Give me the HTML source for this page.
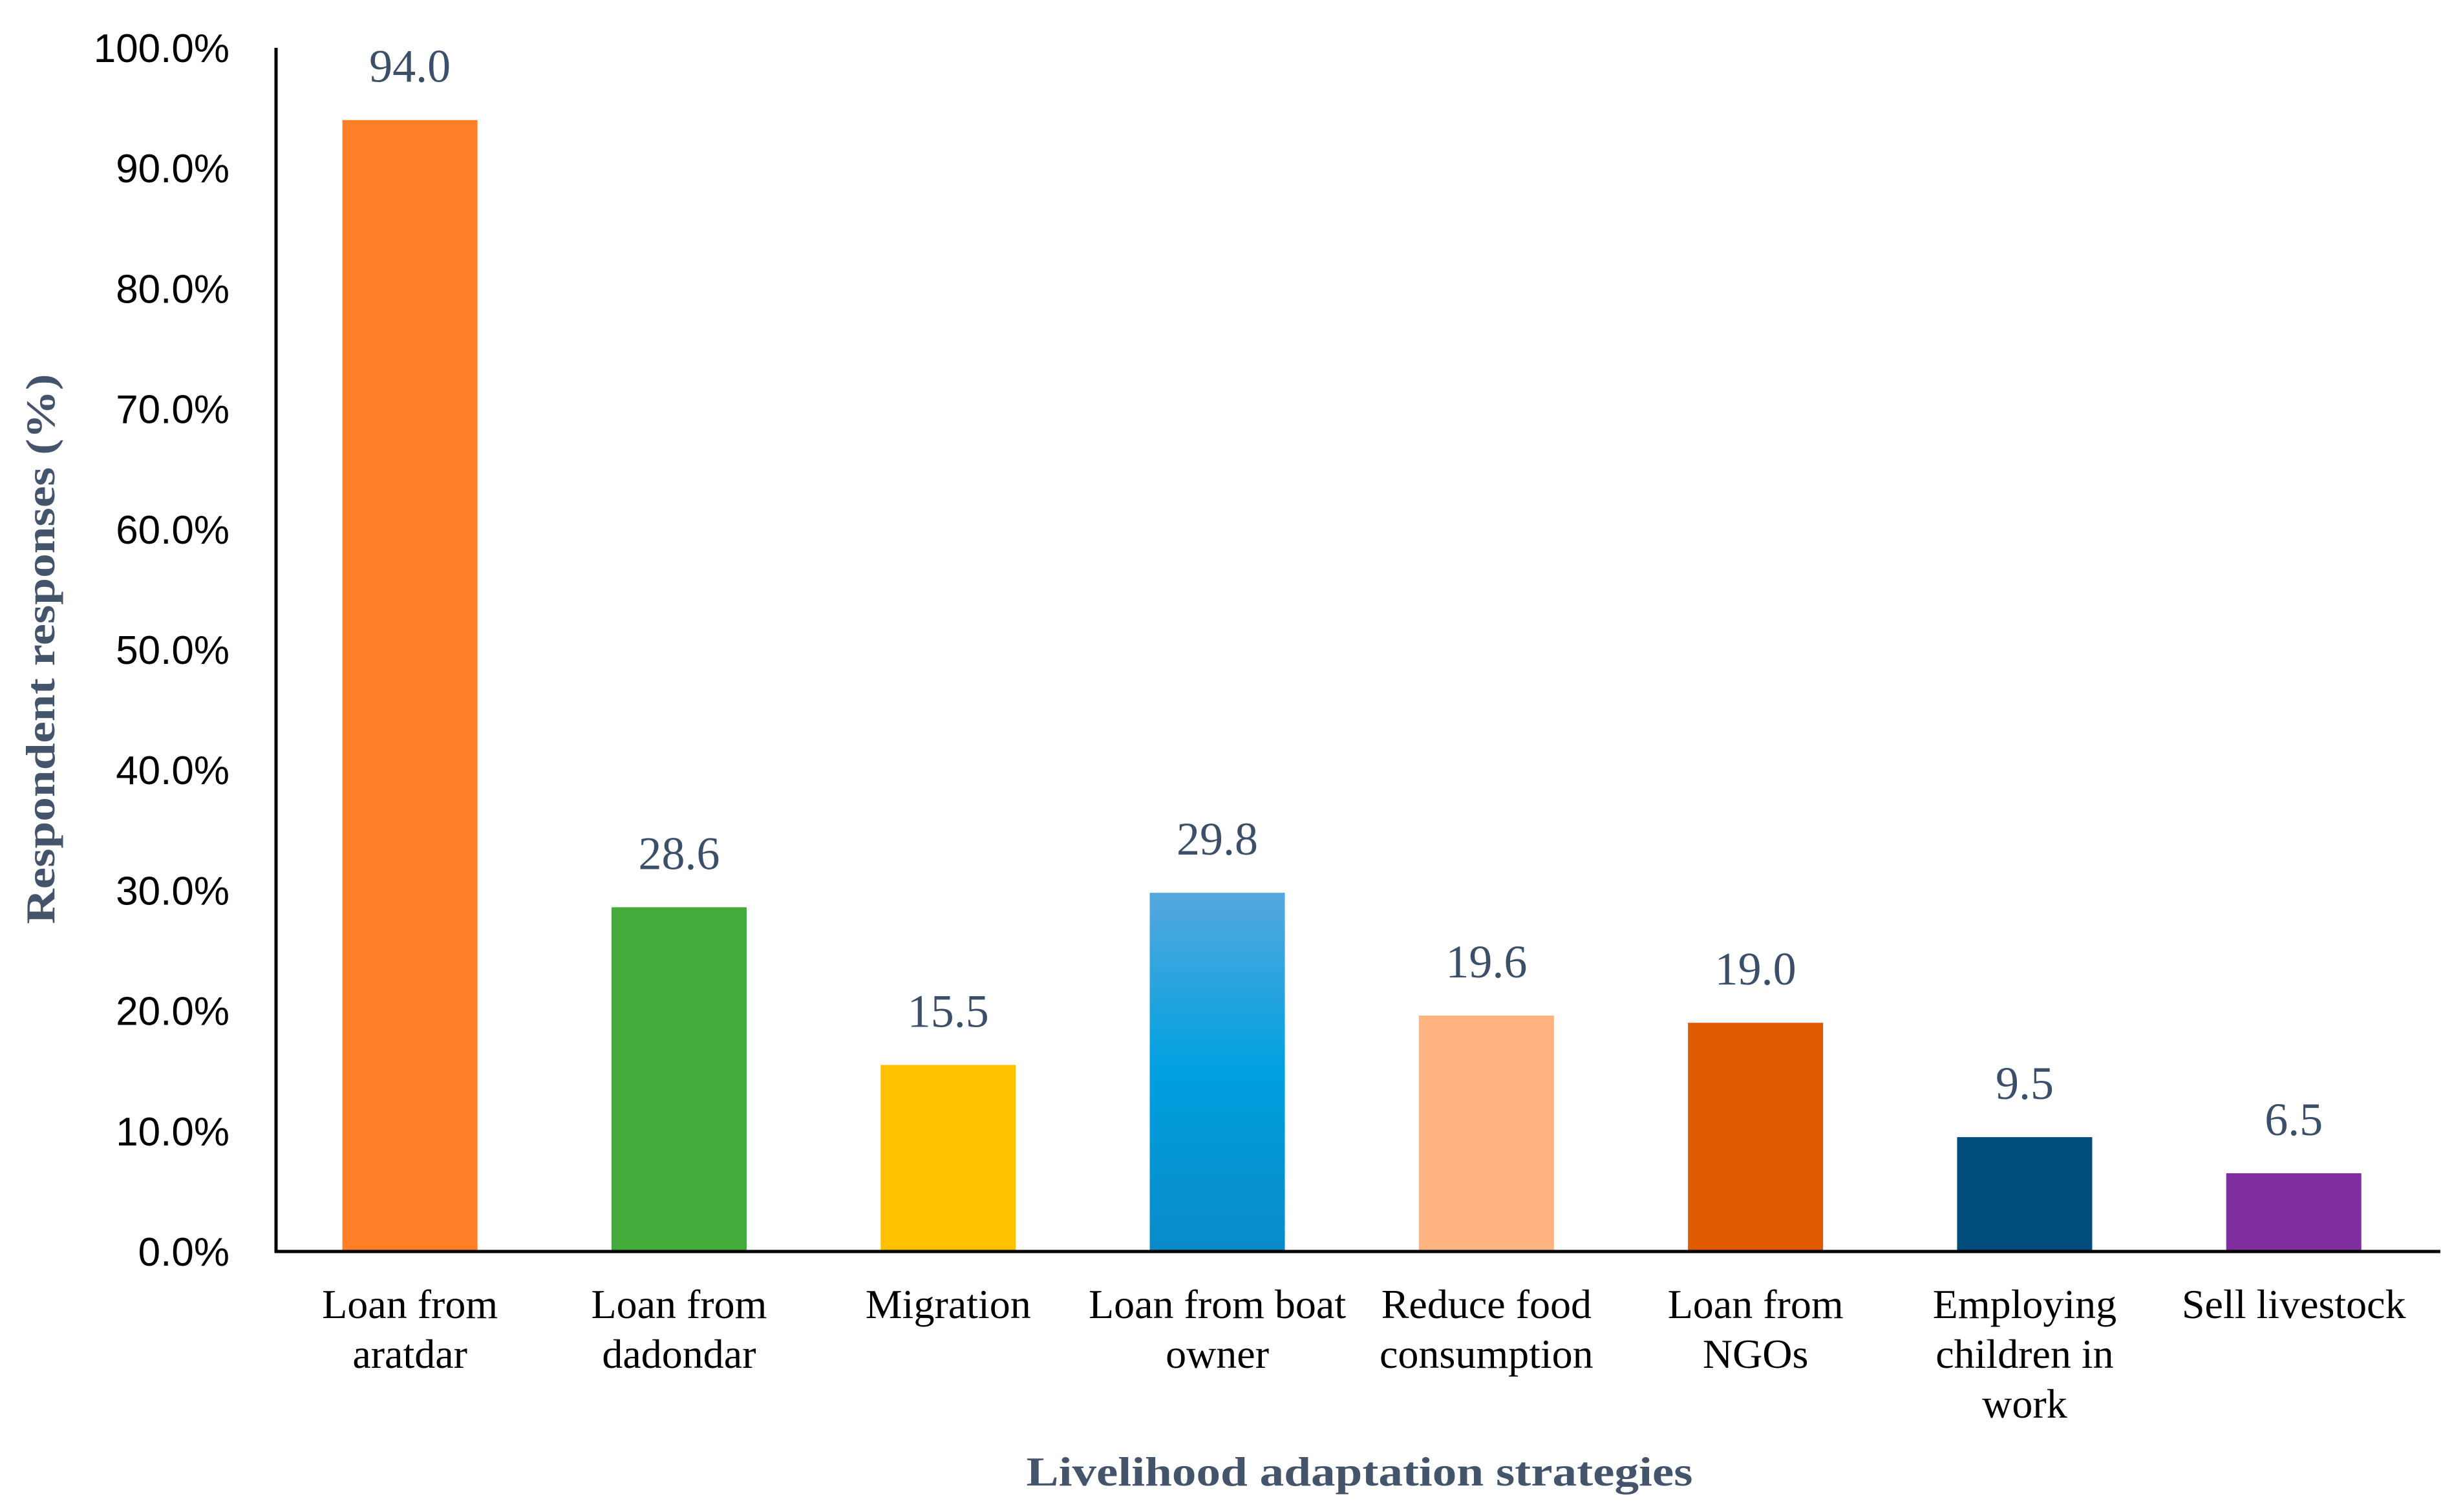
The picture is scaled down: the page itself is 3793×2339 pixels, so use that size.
<!DOCTYPE html>
<html><head><meta charset="utf-8"><style>
html,body{margin:0;padding:0;background:#fff;}
svg{display:block;}
</style></head><body>
<svg id="chart" width="3793" height="2339" viewBox="0 0 3793 2339" xmlns="http://www.w3.org/2000/svg">
<defs>
<linearGradient id="blueGrad" x1="0" y1="0" x2="0" y2="1">
<stop offset="0" stop-color="#55a8de"/>
<stop offset="0.5" stop-color="#00a0e0"/>
<stop offset="1" stop-color="#0a8ac8"/>
</linearGradient>
</defs>
<g id="grid"></g>
<text transform="translate(84,1004) rotate(-90)" text-anchor="middle" font-family="Liberation Serif, serif" font-weight="bold" font-size="64" fill="#44546a" textLength="851" lengthAdjust="spacingAndGlyphs">Respondent responses (%)</text>
<text x="2103" y="2298" text-anchor="middle" font-family="Liberation Serif, serif" font-weight="bold" font-size="64" fill="#44546a" textLength="1031" lengthAdjust="spacingAndGlyphs">Livelihood adaptation strategies</text>
</svg>
<script>
const categories = [["Loan from","aratdar"],["Loan from","dadondar"],["Migration"],["Loan from boat","owner"],["Reduce food","consumption"],["Loan from","NGOs"],["Employing","children in","work"],["Sell livestock"]];
const values = [94.0, 28.6, 15.5, 29.8, 19.6, 19.0, 9.5, 6.5];
const valueLabels = ["94.0","28.6","15.5","29.8","19.6","19.0","9.5","6.5"];
const colors = ["#ff7f27","#43ab3a","#ffc000","url(#blueGrad)","#ffb482","#e05a00","#004c7a","#7f2ea0"];
const yTicks = [0,10,20,30,40,50,60,70,80,90,100];
const yTickLabels = ["0.0%","10.0%","20.0%","30.0%","40.0%","50.0%","60.0%","70.0%","80.0%","90.0%","100.0%"];

const NS = "http://www.w3.org/2000/svg";
const svg = document.getElementById("chart");
const g = document.getElementById("grid");
const x0 = 426, band = 416.3, yBase = 1936, yTop = 74, yMax = 100;
function yScale(v){ return yBase - (v / yMax) * (yBase - yTop); }
function xCenter(i){ return x0 + band * (i + 0.5); }
const barW = 209;

function mk(tag, attrs){ const e = document.createElementNS(NS, tag); for (const k in attrs) e.setAttribute(k, attrs[k]); return e; }

yTicks.forEach((t, i) => {
  const tx = mk("text", {x: 355, y: yScale(t) + 22, "text-anchor": "end", "font-family": "Liberation Sans, sans-serif", "font-size": "62", fill: "#000"});
  
  
  tx.textContent = yTickLabels[i];
  g.appendChild(tx);
});

values.forEach((v, i) => {
  const r = mk("rect", {x: xCenter(i) - barW / 2, y: yScale(v), width: barW, height: yBase - yScale(v), fill: colors[i]});
  
  
  g.appendChild(r);
  const lb = mk("text", {x: xCenter(i), y: yScale(v) - 59, "text-anchor": "middle", "font-family": "Liberation Serif, serif", "font-size": "72", fill: "#3b5068"});
  
  
  lb.textContent = valueLabels[i];
  g.appendChild(lb);
  categories[i].forEach((line, j) => {
    const ct = mk("text", {x: xCenter(i), y: 2039 + j * 77, "text-anchor": "middle", "font-family": "Liberation Serif, serif", "font-size": "64", fill: "#000"});
    
    
    ct.textContent = line;
    g.appendChild(ct);
  });
});

const ya = mk("line", {x1: 427, y1: yTop, x2: 427, y2: yBase + 2, stroke: "#000", "stroke-width": "5"});


g.appendChild(ya);
const xa = mk("line", {x1: 425, y1: yBase, x2: 3775, y2: yBase, stroke: "#000", "stroke-width": "5"});


g.appendChild(xa);
</script>
</body></html>
